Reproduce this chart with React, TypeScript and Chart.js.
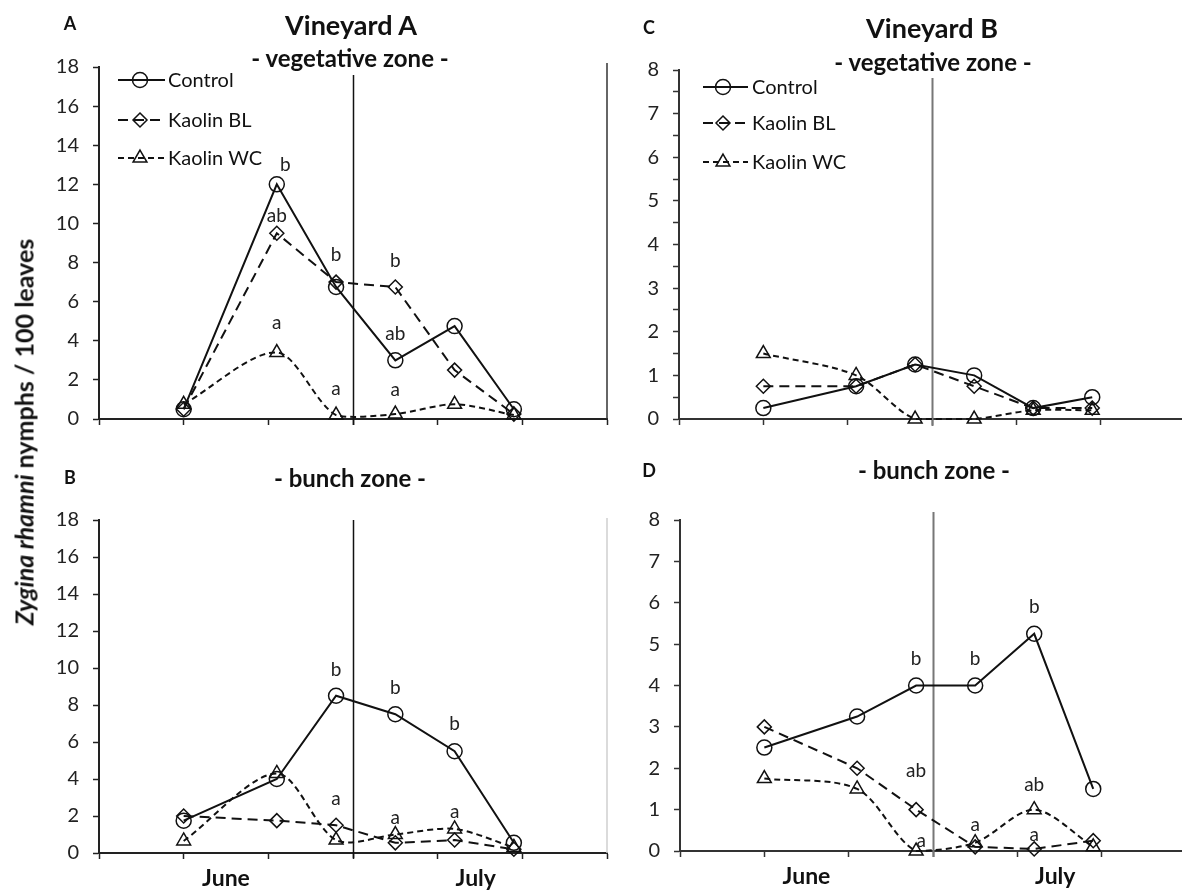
import React, { useEffect, useRef } from 'react';
import { Chart, registerables } from 'chart.js';

Chart.register(...registerables);
Chart.defaults.font.family = 'Lato, sans-serif';

// ---------- data ----------
const seriesNames = ['Control', 'Kaolin BL', 'Kaolin WC'];
const sampleDays = [10, 21, 28, 35, 42, 49]; // days after 1 June

const controlA = [0.5, 12.0, 6.75, 3.0, 4.75, 0.5];
const kaolinBLA = [0.5, 9.5, 7.0, 6.75, 2.5, 0.25];
const kaolinWCA = [0.75, 3.4, 0.2, 0.25, 0.75, 0.2];

const controlB = [1.75, 4.0, 8.5, 7.5, 5.5, 0.55];
const kaolinBLB = [2.0, 1.75, 1.5, 0.55, 0.7, 0.2];
const kaolinWCB = [0.65, 4.3, 0.7, 1.0, 1.3, 0.3];

const controlC = [0.25, 0.75, 1.25, 1.0, 0.25, 0.5];
const kaolinBLC = [0.75, 0.75, 1.25, 0.75, 0.25, 0.25];
const kaolinWCC = [1.5, 1.0, 0.0, 0.0, 0.2, 0.2];

const controlD = [2.5, 3.25, 4.0, 4.0, 5.25, 1.5];
const kaolinBLD = [3.0, 2.0, 1.0, 0.1, 0.05, 0.25];
const kaolinWCD = [1.75, 1.5, 0.0, 0.2, 1.0, 0.1];

const monthLabels = ['June', 'July'];
const monthDays = [15, 44.5];
const julyStartDay = 30;
const xTickDays = [0, 10, 20, 30, 40, 50, 60];

// significance letters: [day, height, text]
const lettersA: [number, number, string][] = [
  [22, 13.0, 'b'], [21, 10.4, 'ab'], [21, 4.9, 'a'],
  [28, 8.4, 'b'], [28, 1.55, 'a'],
  [35, 8.1, 'b'], [35, 4.35, 'ab'], [35, 1.5, 'a'],
];
const lettersB: [number, number, string][] = [
  [28, 9.9, 'b'], [28, 2.9, 'a'],
  [35, 8.9, 'b'], [35, 1.9, 'a'],
  [42, 7.0, 'b'], [42, 2.2, 'a'],
];
const lettersC: [number, number, string][] = [];
const lettersD: [number, number, string][] = [
  [28, 4.65, 'b'], [28, 1.93, 'ab'], [28.6, 0.24, 'a'],
  [35, 4.65, 'b'], [35, 0.63, 'a'],
  [42, 5.9, 'b'], [42, 1.6, 'ab'], [42, 0.4, 'a'],
];

// ---------- styles ----------
const seriesStyles = [
  { dash: [] as number[], pointStyle: 'circle', radius: 7.5, tension: 0 },
  { dash: [10, 6], pointStyle: 'rectRot', radius: 7, tension: 0 },
  { dash: [6, 4], pointStyle: 'triangle', radius: 8, tension: 0.3 },
];

type PanelCfg = {
  canvas: { left: number; top: number; width: number; height: number };
  area: { left: number; top: number; right: number; bottom: number };
  series: number[][];
  yMax: number;
  yStep: number;
  showMonths: boolean;
  letters: [number, number, string][];
  sepTop: number;
  sepBottom: number;
  sepColor: string;
  sepWidth: number;
  border?: { color: string; top: number };
  legend?: { x1: number; x2: number; mx: number; tx: number; ys: number[] };
  axisColor: string;
};

const panels: PanelCfg[] = [
  {
    canvas: { left: 0, top: 0, width: 640, height: 445 },
    area: { left: 99, top: 67, right: 607, bottom: 419 },
    series: [controlA, kaolinBLA, kaolinWCA],
    yMax: 18, yStep: 2, showMonths: false, letters: lettersA,
    sepTop: 8, sepBottom: 6, sepColor: '#111', sepWidth: 1.5,
    border: { color: '#333', top: -4 },
    legend: { x1: 118, x2: 165, mx: 140, tx: 168, ys: [80, 120, 158] },
    axisColor: '#222',
  },
  {
    canvas: { left: 0, top: 445, width: 640, height: 449 },
    area: { left: 99, top: 520, right: 607, bottom: 853 },
    series: [controlB, kaolinBLB, kaolinWCB],
    yMax: 18, yStep: 2, showMonths: true, letters: lettersB,
    sepTop: 0, sepBottom: 5, sepColor: '#111', sepWidth: 1.5,
    border: { color: '#cfcfcf', top: -2 },
    axisColor: '#222',
  },
  {
    canvas: { left: 600, top: 0, width: 600, height: 445 },
    area: { left: 679, top: 70, right: 1185, bottom: 423 },
    series: [controlC, kaolinBLC, kaolinWCC],
    yMax: 8, yStep: 0.5, showMonths: false, letters: lettersC,
    sepTop: 8, sepBottom: 7, sepColor: '#777', sepWidth: 2,
    legend: { x1: 703, x2: 748, mx: 723, tx: 752, ys: [87, 123, 162] },
    axisColor: '#333',
  },
  {
    canvas: { left: 600, top: 445, width: 600, height: 449 },
    area: { left: 680, top: 520, right: 1186, bottom: 851 },
    series: [controlD, kaolinBLD, kaolinWCD],
    yMax: 8, yStep: 1, showMonths: true, letters: lettersD,
    sepTop: -8, sepBottom: 6, sepColor: '#777', sepWidth: 2,
    axisColor: '#333',
  },
];

const headerTexts = [
  { text: 'A', x: 70, y: 23, size: 18 },
  { text: 'Vineyard A', x: 351, y: 24, size: 27 },
  { text: '- vegetative zone -', x: 350, y: 58, size: 24 },
  { text: 'C', x: 649, y: 27, size: 18 },
  { text: 'Vineyard B', x: 932, y: 27, size: 27 },
  { text: '- vegetative zone -', x: 933, y: 62, size: 24 },
  { text: 'B', x: 70, y: 477, size: 18 },
  { text: '- bunch zone -', x: 350, y: 478, size: 24 },
  { text: 'D', x: 649, y: 470, size: 18 },
  { text: '- bunch zone -', x: 934, y: 470, size: 24 },
];

function drawMarker(ctx: CanvasRenderingContext2D, style: string, x: number, y: number, r: number) {
  ctx.beginPath();
  if (style === 'circle') {
    ctx.arc(x, y, r, 0, Math.PI * 2);
  } else if (style === 'rectRot') {
    ctx.moveTo(x, y - r);
    ctx.lineTo(x + r, y);
    ctx.lineTo(x, y + r);
    ctx.lineTo(x - r, y);
    ctx.closePath();
  } else {
    for (let k = 0; k < 3; k++) {
      const ang = (k * 2 * Math.PI) / 3;
      const px = x + Math.sin(ang) * r;
      const py = y - Math.cos(ang) * r;
      if (k === 0) ctx.moveTo(px, py);
      else ctx.lineTo(px, py);
    }
    ctx.closePath();
  }
  ctx.stroke();
}

function Panel({ cfg }: { cfg: PanelCfg }) {
  const ref = useRef<HTMLCanvasElement>(null);
  useEffect(() => {
    if (!ref.current) return;
    const yW = 60;
    const xH = cfg.showMonths ? 40 : 12;
    const pad = {
      left: cfg.area.left - cfg.canvas.left - yW,
      top: cfg.area.top - cfg.canvas.top,
      right: cfg.canvas.left + cfg.canvas.width - cfg.area.right,
      bottom: cfg.canvas.top + cfg.canvas.height - cfg.area.bottom - xH,
    };
    const datasets = cfg.series.map((vals, i) => ({
      label: seriesNames[i],
      data: sampleDays.map((d, j) => ({ x: d, y: vals[j] })),
      borderColor: '#111',
      borderWidth: 2,
      borderDash: seriesStyles[i].dash,
      pointStyle: seriesStyles[i].pointStyle,
      pointRadius: seriesStyles[i].radius,
      pointBorderWidth: 1.5,
      pointBorderColor: '#111',
      pointBackgroundColor: 'rgba(255,255,255,0)',
      fill: false,
      tension: seriesStyles[i].tension,
      clip: false as any,
    }));
    const decor = {
      id: 'decor',
      beforeDatasetsDraw(chart: any) {
        const { ctx, chartArea: a, scales } = chart;
        const x = Math.round(scales.x.getPixelForValue(julyStartDay)) + 0.5;
        ctx.save();
        ctx.strokeStyle = cfg.sepColor;
        ctx.lineWidth = cfg.sepWidth;
        ctx.beginPath();
        ctx.moveTo(x, a.top + cfg.sepTop);
        ctx.lineTo(x, a.bottom + cfg.sepBottom);
        ctx.stroke();
        if (cfg.border) {
          ctx.strokeStyle = cfg.border.color;
          ctx.lineWidth = 1.5;
          ctx.beginPath();
          ctx.moveTo(a.right, a.top + cfg.border.top);
          ctx.lineTo(a.right, a.bottom);
          ctx.stroke();
        }
        ctx.restore();
      },
      afterDatasetsDraw(chart: any) {
        const { ctx, scales } = chart;
        ctx.save();
        ctx.fillStyle = '#222';
        ctx.font = '19px Lato, sans-serif';
        ctx.textAlign = 'center';
        ctx.textBaseline = 'middle';
        cfg.letters.forEach(([d, v, t]) => {
          ctx.fillText(t, scales.x.getPixelForValue(d), scales.y.getPixelForValue(v));
        });
        if (cfg.legend) {
          const L = cfg.legend;
          const ox = cfg.canvas.left;
          const oy = cfg.canvas.top;
          seriesNames.forEach((name, i) => {
            const y = L.ys[i] - oy;
            ctx.strokeStyle = '#111';
            ctx.lineWidth = 2;
            ctx.setLineDash(seriesStyles[i].dash);
            ctx.beginPath();
            ctx.moveTo(L.x1 - ox, y);
            ctx.lineTo(L.x2 - ox, y);
            ctx.stroke();
            ctx.setLineDash([]);
            ctx.lineWidth = 1.5;
            drawMarker(ctx, seriesStyles[i].pointStyle, L.mx - ox, y, seriesStyles[i].radius);
            ctx.fillStyle = '#111';
            ctx.font = '20px Lato, sans-serif';
            ctx.textAlign = 'left';
            ctx.textBaseline = 'middle';
            ctx.fillText(name, L.tx - ox, y + 1);
          });
        }
        ctx.restore();
      },
    };
    const chart = new Chart(ref.current, {
      type: 'line',
      data: { datasets: datasets as any },
      options: {
        responsive: false,
        animation: false,
        events: [],
        layout: { padding: pad },
        plugins: {
          legend: { display: false },
          tooltip: { enabled: false },
          title: { display: false },
        },
        scales: {
          x: {
            type: 'linear',
            min: 0,
            max: 60,
            afterBuildTicks: (s: any) => {
              const vals = cfg.showMonths ? xTickDays.concat(monthDays) : xTickDays.slice();
              s.ticks = vals.sort((a, b) => a - b).map((v) => ({ value: v }));
            },
            afterFit: (s: any) => {
              s.height = xH;
            },
            ticks: {
              autoSkip: false,
              maxRotation: 0,
              minRotation: 0,
              padding: 6,
              color: '#111',
              font: { size: 23, weight: 'bold' },
              callback: (v: any) => {
                const k = monthDays.indexOf(Number(v));
                return cfg.showMonths && k >= 0 ? monthLabels[k] : '';
              },
            },
            grid: {
              drawOnChartArea: false,
              drawTicks: true,
              tickLength: 6,
              tickWidth: 1.5,
              tickColor: (ctx: any) =>
                ctx.tick && monthDays.includes(ctx.tick.value) ? 'rgba(0,0,0,0)' : cfg.axisColor,
            },
            border: { display: true, color: cfg.axisColor, width: 2 },
          },
          y: {
            type: 'linear',
            min: 0,
            max: cfg.yMax,
            afterFit: (s: any) => {
              s.width = yW;
            },
            ticks: {
              stepSize: cfg.yStep,
              autoSkip: false,
              padding: 14,
              color: '#222',
              font: { size: 20 },
              callback: (v: any) => (Number.isInteger(Number(v)) ? String(v) : ''),
            },
            grid: {
              drawOnChartArea: false,
              drawTicks: true,
              tickLength: 6,
              tickWidth: 1.5,
              tickColor: cfg.axisColor,
            },
            border: { display: true, color: cfg.axisColor, width: 2 },
          },
        },
      } as any,
      plugins: [decor],
    });
    return () => chart.destroy();
  }, [cfg]);
  return (
    <canvas
      ref={ref}
      width={cfg.canvas.width}
      height={cfg.canvas.height}
      style={{
        position: 'absolute',
        left: cfg.canvas.left,
        top: cfg.canvas.top,
        width: cfg.canvas.width,
        height: cfg.canvas.height,
      }}
    />
  );
}

export default function App() {
  return (
    <div
      style={{
        position: 'absolute',
        left: 0,
        top: 0,
        width: 1182,
        height: 894,
        overflow: 'hidden',
        background: '#fff',
        fontFamily: 'Lato, sans-serif',
        color: '#111',
      }}
    >
      {panels.map((p, i) => (
        <Panel key={i} cfg={p} />
      ))}
      {headerTexts.map((t, i) => (
        <div
          key={i}
          style={{
            position: 'absolute',
            left: t.x,
            top: t.y,
            transform: 'translate(-50%, -50%)',
            fontSize: t.size,
            fontWeight: 'bold',
            lineHeight: 1,
            whiteSpace: 'nowrap',
          }}
        >
          {t.text}
        </div>
      ))}
      <div
        style={{
          position: 'absolute',
          left: 24,
          top: 432,
          transform: 'translate(-50%, -50%) rotate(-90deg)',
          fontSize: 25,
          fontWeight: 'bold',
          lineHeight: 1,
          whiteSpace: 'nowrap',
        }}
      >
        <i>Zygina rhamni</i> nymphs / 100 leaves
      </div>
    </div>
  );
}
